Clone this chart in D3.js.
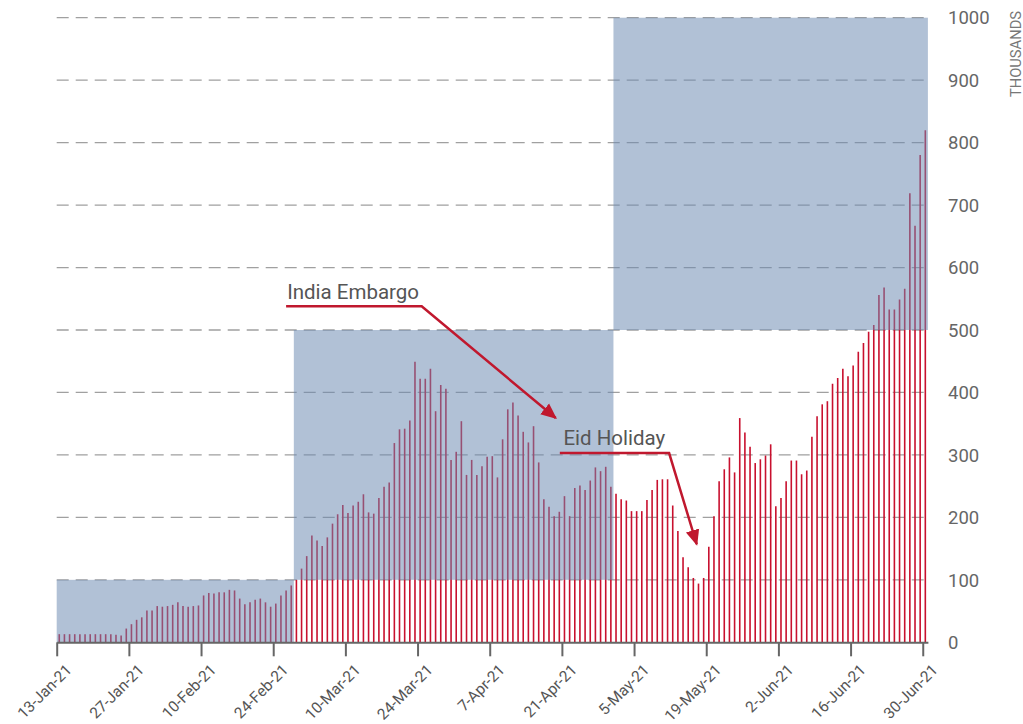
<!DOCTYPE html>
<html lang="en">
<head>
<meta charset="UTF-8">
<title>Daily volume, Jan-Jun 2021</title>
<script src="https://d3js.org/d3.v7.min.js"></script>
<style>
    body {
        margin: 0;
        padding: 0;
        background: #fff;
        font-family: Roboto, "Noto Sans", sans-serif;
    }
    .grid line {
        stroke: #a0a0a0;
        stroke-width: 1.3;
        stroke-dasharray: 12, 7;
    }
    .bar {
        stroke: #c8102e;
        stroke-width: 1.6;
    }
    .band {
        fill: #6c8ab2;
        fill-opacity: 0.53;
    }
    .ylab {
        font-size: 18.5px;
        fill: #666;
    }
    .xaxis path, .xaxis line {
        stroke: #666;
        stroke-width: 2;
    }
    .xlab {
        font-size: 15.5px;
        fill: #555;
    }
    .unit {
        font-size: 14px;
        fill: #777;
    }
    .note text {
        font-size: 20.5px;
        fill: #555;
    }
    .note path {
        fill: none;
        stroke: #c0182e;
        stroke-width: 2.5;
    }
</style>
</head>
<body>
<div id="chart"></div>
<script>

    // daily values (thousands), 13-Jan-21 .. 30-Jun-21
    const startDate = new Date(2021, 0, 13);
    const values = [
        13, 13, 13, 13, 13, 13, 13, 13, 13, 13, 13, 12, 11,
        22, 29, 36, 40, 51, 51, 58, 57, 58, 60, 64, 58, 57, 58, 59,
        75, 79, 78, 80, 80, 84, 83, 70, 61, 64, 68, 70, 64, 57, 62, 75, 83, 91,
        100, 118, 138, 171, 163, 154, 168, 190, 205, 220, 207, 219, 225, 237,
        208, 206, 231, 249, 256, 319, 341, 342, 355, 449, 422, 422, 438, 370,
        412, 406, 292, 305, 354, 268, 292, 268, 282, 297, 298, 264, 325, 373,
        384, 363, 337, 320, 346, 288, 229, 217, 202, 209, 234, 202, 247, 251,
        244, 259, 280, 274, 281, 249,
        238, 229, 227, 210, 210, 210, 228, 244, 260, 261, 261, 219, 178, 136,
        120, 103, 94, 103, 153, 202, 258, 277, 296, 272, 359, 336, 313, 287,
        293, 299, 317, 218, 231, 258, 291, 291, 269, 275, 329, 362, 381, 386,
        414, 423, 438, 426, 443, 465, 479, 497, 508, 556, 568, 533, 533, 549,
        566, 719, 667, 780, 820
    ];

    const tickLabels = ["13-Jan-21", "27-Jan-21", "10-Feb-21", "24-Feb-21", "10-Mar-21",
        "24-Mar-21", "7-Apr-21", "21-Apr-21", "5-May-21", "19-May-21", "2-Jun-21",
        "16-Jun-21", "30-Jun-21"];
    const yTicks = [0, 100, 200, 300, 400, 500, 600, 700, 800, 900, 1000];

    // shaded ranges: day index from/to and value low/high
    const bandFrom = [0, 46, 108];
    const bandTo = [46, 108, 169];
    const bandLow = [0, 100, 500];
    const bandHigh = [100, 500, 1000];

    // annotations in data units (day index, value)
    const notes = [
        {label: "India Embargo", text: [44.7, 549], line: [[44.5, 538], [70.8, 538], [96.8, 359]]},
        {label: "Eid Holiday", text: [98.3, 316], line: [[97.6, 303], [118.8, 303], [124.15, 157]]}
    ];

    const width = 1023, height = 724;
    const x0 = 56.7, x1 = 927.9;

    const svg = d3.select("#chart")
        .append("svg")
        .attr("width", width)
        .attr("height", height);

    const xDay = d3.scaleLinear().domain([0, values.length]).range([x0, x1]);
    const xTime = d3.scaleTime()
        .domain([startDate, d3.timeDay.offset(startDate, values.length)])
        .range([x0, x1]);
    const y = d3.scaleLinear().domain([0, 1000]).range([642.3, 17.7]);

    svg.append("defs").append("marker")
        .attr("id", "arrowhead")
        .attr("viewBox", "0 -5 10 10")
        .attr("refX", 9)
        .attr("refY", 0)
        .attr("orient", "auto")
        .attr("markerUnits", "userSpaceOnUse")
        .attr("markerWidth", 16)
        .attr("markerHeight", 16)
        .append("path")
        .attr("d", "M0,-4.3L10,0L0,4.3Z")
        .attr("fill", "#c0182e");

    // gridlines
    svg.append("g")
        .attr("class", "grid")
        .selectAll("line")
        .data(yTicks.filter(t => t > 0))
        .enter()
        .append("line")
        .attr("x1", x0)
        .attr("x2", 929)
        .attr("y1", d => y(d))
        .attr("y2", d => y(d));

    // bars
    svg.append("g")
        .selectAll("line")
        .data(values)
        .enter()
        .append("line")
        .attr("class", "bar")
        .attr("x1", (d, i) => xDay(i + 0.5))
        .attr("x2", (d, i) => xDay(i + 0.5))
        .attr("y1", y(0))
        .attr("y2", d => y(d));

    // shaded ranges on top of the bars
    svg.append("g")
        .selectAll("rect")
        .data(bandFrom)
        .enter()
        .append("rect")
        .attr("class", "band")
        .attr("x", (d, i) => xDay(bandFrom[i]))
        .attr("width", (d, i) => xDay(bandTo[i]) - xDay(bandFrom[i]))
        .attr("y", (d, i) => y(bandHigh[i]))
        .attr("height", (d, i) => y(bandLow[i]) - y(bandHigh[i]));

    // x axis
    const tickDates = tickLabels.map((l, i) => d3.timeDay.offset(startDate, 14 * i));
    const xAxis = svg.append("g")
        .attr("class", "xaxis")
        .attr("transform", `translate(0,${y(0)})`)
        .call(d3.axisBottom(xTime)
            .tickValues(tickDates)
            .tickSize(14)
            .tickSizeOuter(0)
            .tickFormat(""));
    xAxis.selectAll(".tick text").remove();

    svg.append("g")
        .selectAll("text")
        .data(tickDates)
        .enter()
        .append("text")
        .attr("class", "xlab")
        .attr("text-anchor", "end")
        .attr("transform", d => `translate(${xTime(d) + 16},${y(0) + 28.5}) rotate(-45)`)
        .text((d, i) => tickLabels[i]);

    // y labels on the right
    svg.append("g")
        .selectAll("text")
        .data(yTicks)
        .enter()
        .append("text")
        .attr("class", "ylab")
        .attr("x", 948)
        .attr("y", d => y(d))
        .attr("dy", "0.36em")
        .text(d => d);

    svg.append("text")
        .attr("class", "unit")
        .attr("text-anchor", "end")
        .attr("transform", "translate(1021,11) rotate(-90)")
        .attr("textLength", 86)
        .attr("lengthAdjust", "spacingAndGlyphs")
        .text("THOUSANDS");

    // annotations
    const line = d3.line().x(p => xDay(p[0])).y(p => y(p[1]));
    const note = svg.append("g")
        .selectAll("g")
        .data(notes)
        .enter()
        .append("g")
        .attr("class", "note");

    note.append("path")
        .attr("d", d => line(d.line))
        .attr("marker-end", "url(#arrowhead)");

    note.append("text")
        .attr("x", d => xDay(d.text[0]))
        .attr("y", d => y(d.text[1]))
        .text(d => d.label);

</script>
</body>
</html>
